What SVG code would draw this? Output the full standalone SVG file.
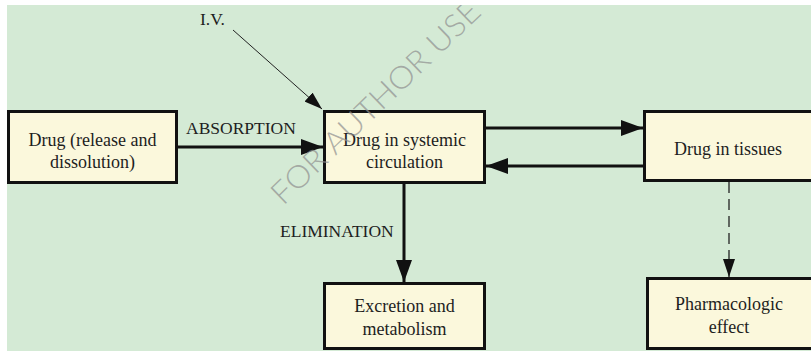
<svg xmlns="http://www.w3.org/2000/svg" width="811" height="351" viewBox="0 0 811 351">
<style>
.box{fill:#fbf8dc;stroke:#111;stroke-width:3}
.t{font-family:"Liberation Serif","Times New Roman",serif;font-size:18px;fill:#1e1e1e;text-anchor:middle}
.lbl{font-family:"Liberation Serif","Times New Roman",serif;font-size:17.5px;fill:#1e1e1e}
.thick{stroke:#111;stroke-width:3;fill:none}
.thin{stroke:#222;stroke-width:1;fill:none}
.dash{stroke:#222;stroke-width:1.3;fill:none;stroke-dasharray:11 6}
.wm{font-family:Lato,"Liberation Sans",Arial,sans-serif;font-weight:300;font-size:31px;fill:#8e8e8e;fill-opacity:0.7}
</style>
<defs>
<marker id="ah" markerUnits="userSpaceOnUse" markerWidth="22" markerHeight="16" refX="22" refY="8" orient="auto">
<path d="M0,0 L22,8 L0,16 Z" fill="#111"/>
</marker>
<marker id="ahs" markerUnits="userSpaceOnUse" markerWidth="18" markerHeight="12" refX="18" refY="6" orient="auto">
<path d="M0,0 L18,6 L0,12 Z" fill="#111"/>
</marker>
</defs>
<rect x="0" y="0" width="811" height="351" fill="#ffffff"/>
<rect x="7" y="5" width="804" height="346" fill="#d4ead5"/>
<g id="connectors">
<line class="thick" x1="178" y1="147" x2="323" y2="147" marker-end="url(#ah)"/>
<line class="thin" x1="233" y1="30" x2="322" y2="109" marker-end="url(#ahs)"/>
<line class="thick" x1="486" y1="128" x2="643" y2="128" marker-end="url(#ah)"/>
<line class="thick" x1="643" y1="166" x2="486" y2="166" marker-end="url(#ah)"/>
<line class="thick" x1="404" y1="184" x2="404" y2="282" marker-end="url(#ah)"/>
<line class="dash" x1="729" y1="182" x2="729" y2="277" marker-end="url(#ahs)"/>
<text class="lbl" x="200" y="25">I.V.</text>
<text class="lbl" x="186" y="134">ABSORPTION</text>
<text class="lbl" x="280" y="237">ELIMINATION</text>
</g>
<g id="n1">
<rect class="box" x="8.5" y="111.5" width="168" height="71"/>
<text class="t" x="92.5" y="146">Drug (release and</text>
<text class="t" x="92.5" y="168">dissolution)</text>
</g>
<g id="n2">
<rect class="box" x="324.5" y="111.5" width="160" height="71"/>
<text class="t" x="404.5" y="146">Drug in systemic</text>
<text class="t" x="404.5" y="168">circulation</text>
</g>
<g id="n3">
<rect class="box" x="644.5" y="111.5" width="200" height="69"/>
<text class="t" x="728" y="155">Drug in tissues</text>
</g>
<g id="n4">
<rect class="box" x="324.5" y="283.5" width="160" height="65"/>
<text class="t" x="404.5" y="312">Excretion and</text>
<text class="t" x="404.5" y="335">metabolism</text>
</g>
<g id="n5">
<rect class="box" x="647.5" y="278.5" width="200" height="70"/>
<text class="t" x="729" y="310">Pharmacologic</text>
<text class="t" x="729" y="333">effect</text>
</g>
<text class="wm" x="0" y="0" text-anchor="middle" textLength="277" lengthAdjust="spacingAndGlyphs" transform="translate(383,110) rotate(-44)">FOR AUTHOR USE</text>
<rect x="0" y="0" width="811" height="5" fill="#ffffff"/>
</svg>
